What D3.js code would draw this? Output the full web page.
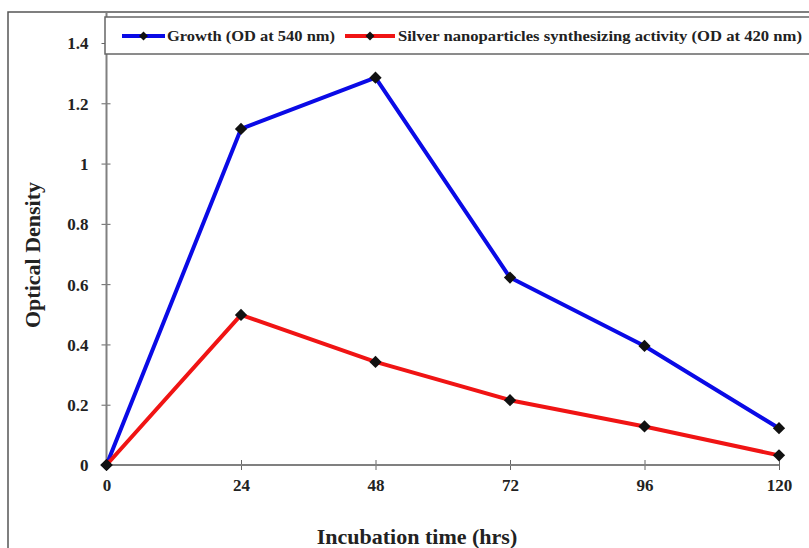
<!DOCTYPE html>
<html>
<head>
<meta charset="utf-8">
<script src="https://cdn.jsdelivr.net/npm/d3@7"></script>
<style>
  html, body { margin: 0; padding: 0; background: #fff; }
  svg { display: block; }
  text { font-family: "Liberation Serif", "Times New Roman", serif; font-weight: bold; fill: #222; }
</style>
</head>
<body>
<svg id="chart" width="809" height="548"></svg>
<script>
// Incubation time (hrs)
const hours = [0, 24, 48, 72, 96, 120];
// Growth (OD at 540 nm)
const growth = [0, 1.115, 1.285, 0.622, 0.395, 0.122];
// Silver nanoparticles synthesizing activity (OD at 420 nm)
const silver = [0, 0.498, 0.342, 0.215, 0.128, 0.032];
const yTicks = [0, 0.2, 0.4, 0.6, 0.8, 1, 1.2, 1.4];
const seriesNames = ["Growth (OD at 540 nm)", "Silver nanoparticles synthesizing activity (OD at 420 nm)"];
const seriesColors = ["#0a0ae6", "#f01414"];

const svg = d3.select("#chart");

// outer frame
svg.append("rect")
  .attr("x", 8).attr("y", 12).attr("width", 840).attr("height", 600)
  .attr("fill", "none").attr("stroke", "#555").attr("stroke-width", 1.5);

const x = d3.scaleLinear().domain([0, 120]).range([106.5, 779]);
const y = d3.scaleLinear().domain([0, 1.4]).range([465, 43]);

const fmt = d => String(+d.toFixed(1));

// y axis
const yAxis = svg.append("g").attr("transform", `translate(${x(0)},0)`)
  .call(d3.axisLeft(y).tickValues(yTicks).tickFormat(fmt).tickSize(0));
yAxis.attr("font-size", null).attr("font-family", null);
yAxis.select(".domain").remove();
yAxis.append("line").attr("x1", 0).attr("x2", 0).attr("y1", y(0)).attr("y2", 12)
  .attr("stroke", "#808080").attr("stroke-width", 2);
yAxis.selectAll(".tick line").attr("x1", -5).attr("x2", 4).attr("stroke", "#666").attr("stroke-width", 1);
yAxis.selectAll(".tick text").attr("x", -18).attr("dy", "0.35em")
  .style("font-size", "17px").attr("fill", "#222");

// x axis
const xAxis = svg.append("g").attr("transform", `translate(0,${y(0)})`)
  .call(d3.axisBottom(x).tickValues(hours).tickSize(0));
xAxis.attr("font-size", null).attr("font-family", null);
xAxis.select(".domain").remove();
xAxis.append("line").attr("x1", x(0)).attr("x2", x(120)).attr("y1", 0).attr("y2", 0)
  .attr("stroke", "#808080").attr("stroke-width", 2);
xAxis.selectAll(".tick line").attr("y1", -5).attr("y2", 5).attr("stroke", "#666").attr("stroke-width", 1);
xAxis.selectAll(".tick text").attr("y", 14).attr("dy", "0.71em")
  .style("font-size", "17px").attr("fill", "#222");

// axis titles
svg.append("text").attr("transform", "translate(40,255) rotate(-90)")
  .attr("text-anchor", "middle").style("font-size", "22px").text("Optical Density");
svg.append("text").attr("x", 417).attr("y", 544)
  .attr("text-anchor", "middle").style("font-size", "22px").text("Incubation time (hrs)");

// series
const line = d3.line().x((d, i) => x(hours[i])).y(d => y(d));
const marker = d3.symbol().type(d3.symbolSquare).size(75);
[growth, silver].forEach((vals, k) => {
  svg.append("path").datum(vals)
    .attr("d", line).attr("fill", "none")
    .attr("stroke", seriesColors[k]).attr("stroke-width", 4).attr("stroke-linejoin", "round");
});
[growth, silver].forEach((vals) => {
  svg.append("g").selectAll("path").data(vals).join("path")
    .attr("d", marker)
    .attr("transform", (d, i) => `translate(${x(hours[i])},${y(d)}) rotate(45)`)
    .attr("fill", "#111");
});

// legend
const lg = svg.append("g");
lg.append("rect").attr("x", 105).attr("y", 17).attr("width", 720).attr("height", 37)
  .attr("fill", "#fff").attr("stroke", "#666").attr("stroke-width", 1.5);
const legendItems = [
  { x0: 122, x1: 165, tx: 167, tw: 168 },
  { x0: 345, x1: 395, tx: 398, tw: 404 }
];
legendItems.forEach((it, k) => {
  lg.append("line").attr("x1", it.x0).attr("x2", it.x1).attr("y1", 36).attr("y2", 36)
    .attr("stroke", seriesColors[k]).attr("stroke-width", 4);
  lg.append("path").attr("d", marker.size(40)())
    .attr("transform", `translate(${(it.x0 + it.x1) / 2},36) rotate(45)`).attr("fill", "#111");
  lg.append("text").attr("x", it.tx).attr("y", 41)
    .attr("textLength", it.tw).attr("lengthAdjust", "spacingAndGlyphs")
    .style("font-size", "15px").text(seriesNames[k]);
});
</script>
</body>
</html>
